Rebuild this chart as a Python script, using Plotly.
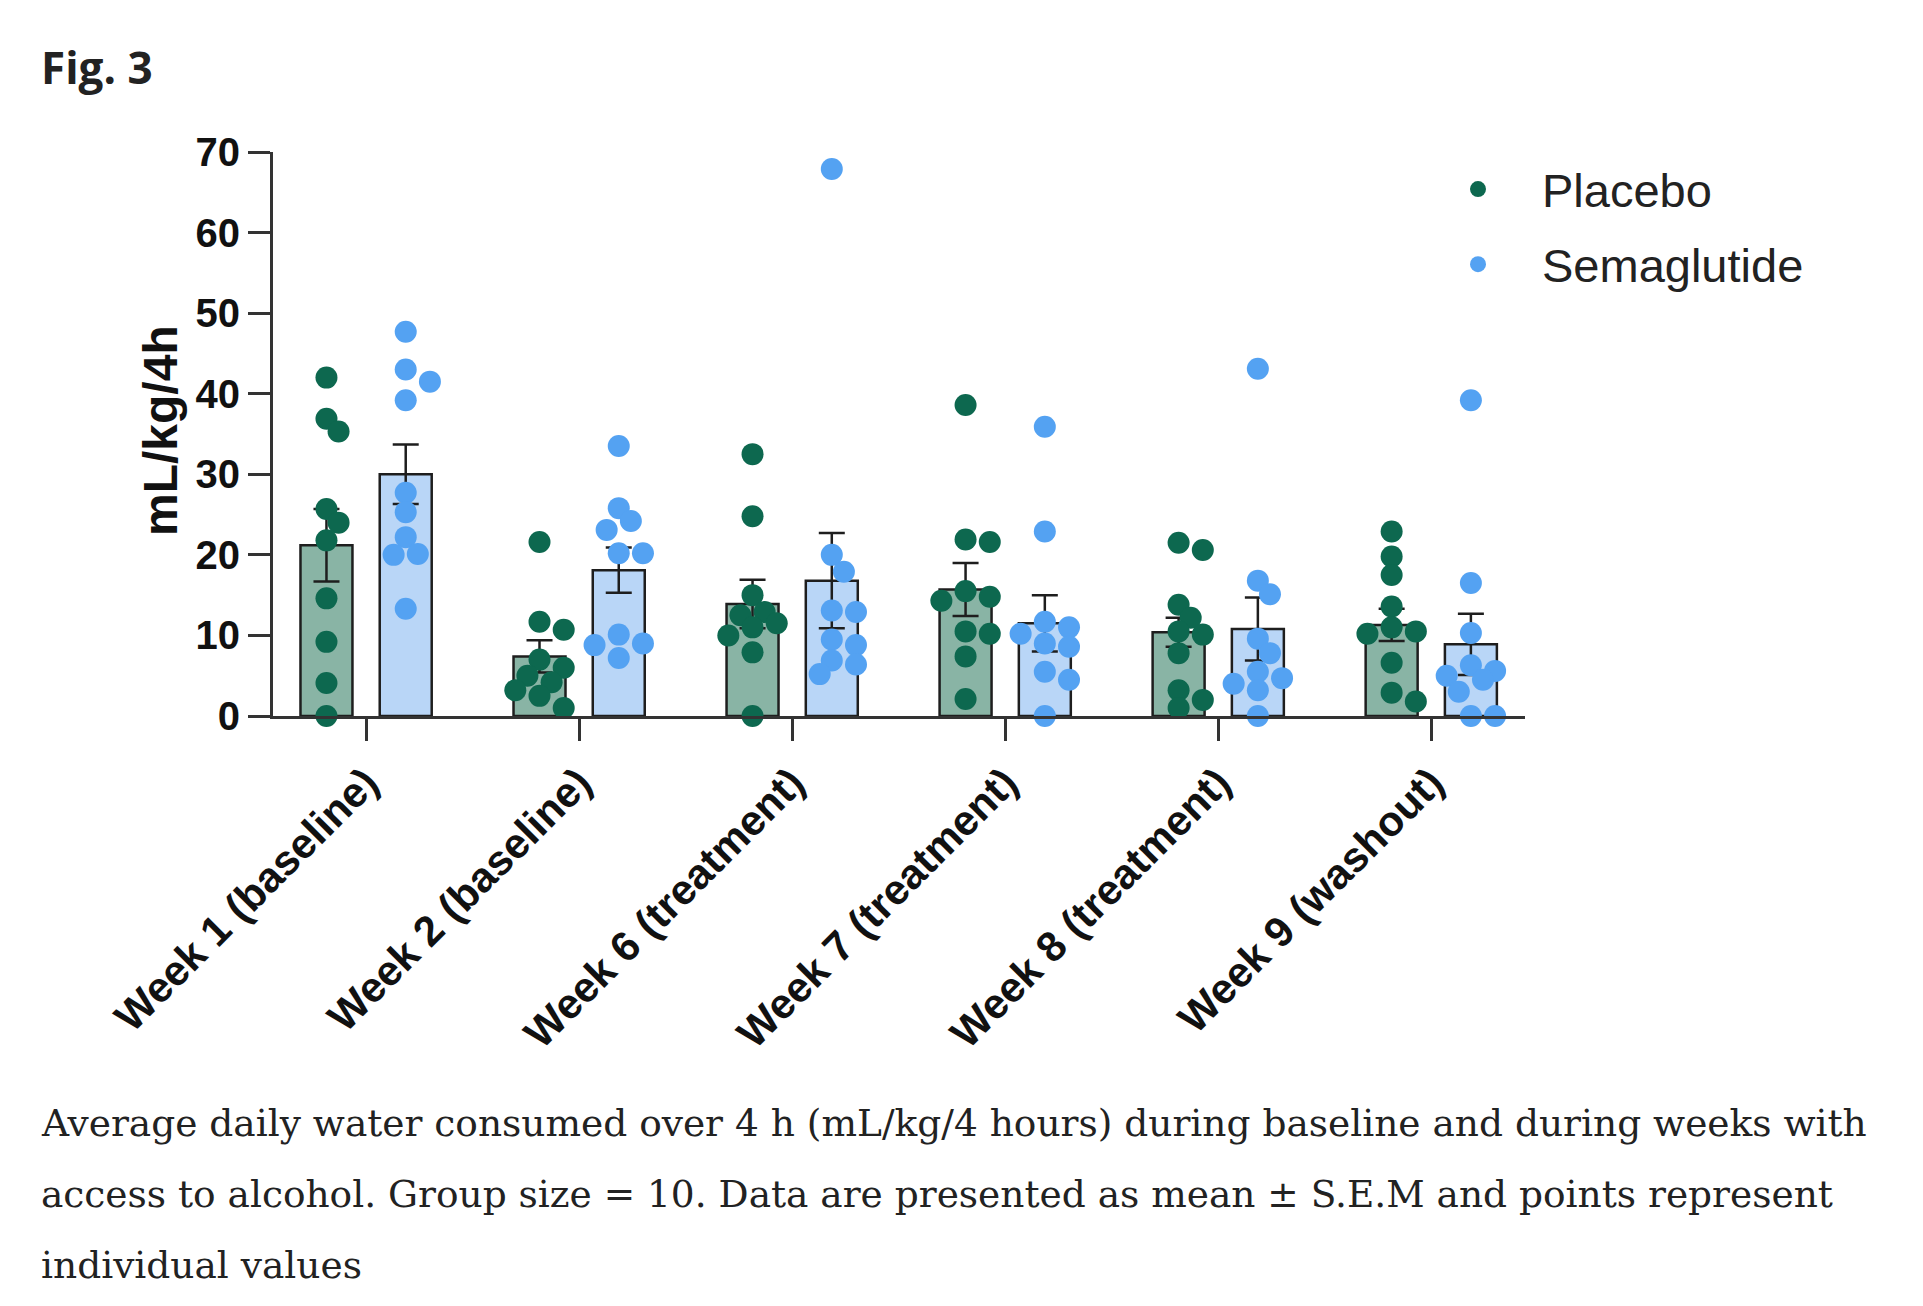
import numpy as np
import plotly.graph_objects as go

# categories
weeks = ["Week 1 (baseline)", "Week 2 (baseline)", "Week 6 (treatment)",
         "Week 7 (treatment)", "Week 8 (treatment)", "Week 9 (washout)"]

# bar heights (mean) and S.E.M
placebo_mean = [21.2, 7.4, 13.9, 15.7, 10.4, 11.3]
placebo_sem = [4.5, 2.0, 3.0, 3.3, 1.8, 2.0]
sema_mean = [30.0, 18.1, 16.8, 11.5, 10.8, 8.9]
sema_sem = [3.7, 2.8, 5.9, 3.5, 3.9, 3.8]

# individual values (10 animals per group)
placebo_pts = [
    [42.0, 36.9, 35.3, 25.7, 24.0, 21.8, 14.6, 9.2, 4.1, 0.0],
    [21.6, 11.7, 10.7, 7.0, 6.0, 5.0, 4.2, 3.2, 2.5, 1.0],
    [32.5, 24.8, 15.0, 12.9, 12.5, 11.5, 11.0, 10.0, 7.9, 0.0],
    [38.6, 21.9, 21.6, 15.5, 14.8, 14.3, 10.5, 10.2, 7.4, 2.1],
    [21.5, 20.6, 13.8, 12.2, 10.5, 10.1, 7.8, 3.2, 2.0, 1.0],
    [22.9, 19.8, 17.5, 13.6, 11.0, 10.5, 10.2, 6.6, 2.9, 1.8],
]
sema_pts = [
    [47.7, 43.0, 41.5, 39.2, 27.7, 25.3, 22.2, 20.1, 20.0, 13.3],
    [33.5, 25.8, 24.2, 23.1, 20.2, 20.2, 10.1, 9.0, 8.8, 7.2],
    [67.9, 20.0, 17.9, 13.1, 12.9, 9.5, 8.8, 6.9, 6.4, 5.2],
    [35.9, 22.9, 11.7, 11.0, 10.2, 9.0, 8.6, 5.5, 4.5, 0.0],
    [43.1, 16.8, 15.1, 9.6, 7.8, 5.5, 4.7, 4.0, 3.2, 0.0],
    [39.2, 16.5, 10.3, 6.3, 5.6, 5.0, 4.5, 3.0, 0.0, 0.0],
]

caption = [
    "Average daily water consumed over 4 h (mL/kg/4 hours) during baseline and during weeks with",
    "access to alcohol. Group size = 10. Data are presented as mean ± S.E.M and points represent",
    "individual values",
]

# layout in pixels (page coordinates of the reference)
W, H = 1923, 1306
OFF = 8  # default body margin of the html page
AX_L, AX_R, AX_T, AX_B = 273, 1525, 152, 716
X_RANGE = [-0.437, 5.44]
Y_RANGE = [0, 70]
PX_X = (AX_R - AX_L) / (X_RANGE[1] - X_RANGE[0])
PX_Y = (AX_B - AX_T) / (Y_RANGE[1] - Y_RANGE[0])
SHIFT = 0.186
BAR_W = 0.244
DOT = 22

GREEN = "#0d684f"
BLUE = "#54a2f2"
GREEN_BAR = "#89b4a5"
BLUE_BAR = "#b9d6f7"
INK = "#1e1e1e"


def swarm(vals, diam=DOT):
    # simple beeswarm: nudge points sideways when they would overlap
    order = np.argsort(vals)[::-1]
    placed = []
    offs = np.zeros(len(vals))
    step = 0.55 * diam
    cands = [0, 1, -1, 2, -2]
    for i in order:
        y = vals[i] * PX_Y
        best, best_d = 0, -1
        for k in cands:
            x = k * step
            d = min([np.hypot(x - px, y - py) for px, py in placed] or [1e9])
            if d >= 0.8 * diam:
                best = x
                break
            if d > best_d:
                best, best_d = x, d
        placed.append((best, y))
        offs[i] = best
    return offs / PX_X


def paper(xpx, ypx):
    return (xpx - AX_L) / (AX_R - AX_L), (AX_B - ypx) / (AX_B - AX_T)


idx = np.arange(len(weeks))
fig = go.Figure()

series = [
    ("Placebo", placebo_mean, placebo_sem, placebo_pts, -SHIFT, GREEN_BAR, GREEN),
    ("Semaglutide", sema_mean, sema_sem, sema_pts, SHIFT, BLUE_BAR, BLUE),
]

for name, mean, sem, pts, shift, bar_col, dot_col in series:
    fig.add_trace(go.Bar(
        x=idx + shift, y=mean, width=BAR_W, showlegend=False,
        marker=dict(color=bar_col, line=dict(color=INK, width=2.5)),
        error_y=dict(type="data", array=sem, color=INK, thickness=2.5, width=13),
    ))

for name, mean, sem, pts, shift, bar_col, dot_col in series:
    xs, ys = [], []
    for i, vals in enumerate(pts):
        vals = np.array(vals)
        xs.extend(i + shift + swarm(vals))
        ys.extend(vals)
    fig.add_trace(go.Scatter(
        x=xs, y=ys, mode="markers", name=name, legendgroup=name,
        marker=dict(color=dot_col, size=DOT, line=dict(width=0)),
        cliponaxis=False,
    ))

tick_font = dict(family="Liberation Sans", size=40, color="#111111", weight="bold")

fig.update_xaxes(
    range=X_RANGE, tickmode="array", tickvals=idx, ticktext=weeks,
    tickangle=-45, ticks="outside", ticklen=22, tickwidth=3, tickcolor="#333333",
    showline=True, linecolor="#333333", linewidth=3,
    showgrid=False, zeroline=False, tickfont=dict(tick_font, size=42),
)
fig.update_yaxes(
    range=Y_RANGE, dtick=10, ticks="outside", ticklen=22, tickwidth=3,
    tickcolor="#333333", showline=True, linecolor="#333333", linewidth=3,
    showgrid=False, zeroline=False, tickfont=tick_font,
)

ann = []
x0, y0 = paper(160, 431)
ann.append(dict(x=x0, y=y0, xref="paper", yref="paper", text="mL/kg/4h",
                textangle=-90, showarrow=False, xanchor="center", yanchor="middle",
                font=dict(family="Liberation Sans", size=48, color="#111111", weight="bold")))
x0, y0 = paper(39, 67)
ann.append(dict(x=x0, y=y0, xref="paper", yref="paper", text="Fig. 3",
                showarrow=False, xanchor="left", yanchor="middle",
                font=dict(family="Open Sans", size=44, color="#222222", weight="bold")))
for k, line in enumerate(caption):
    x0, y0 = paper(39, 1123 + 71 * k)
    ann.append(dict(x=x0, y=y0, xref="paper", yref="paper", text=line,
                    showarrow=False, xanchor="left", yanchor="middle",
                    font=dict(family="DejaVu Serif", size=37.5, color="#222222")))

lx, ly = paper(1414, 152)
fig.update_layout(
    width=W, height=H,
    margin=dict(l=AX_L - OFF, r=W - (AX_R - OFF), t=AX_T - OFF, b=H - (AX_B - OFF)),
    paper_bgcolor="white", plot_bgcolor="white",
    barmode="overlay",
    annotations=ann,
    showlegend=True,
    legend=dict(x=lx, y=ly, xanchor="left", yanchor="top", itemwidth=118,
                tracegroupgap=11, bgcolor="rgba(0,0,0,0)",
                font=dict(family="Liberation Sans", size=47, color="#222222")),
)

fig.write_html("out.html")
